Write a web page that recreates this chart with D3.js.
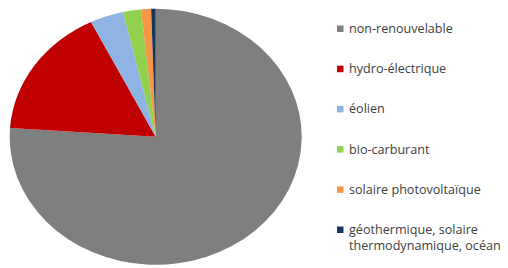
<!DOCTYPE html>
<html>
<head>
<meta charset="utf-8">
<script src="https://cdn.jsdelivr.net/npm/d3@7"></script>
<style>
  body { margin: 0; background: #fff; }
  text { font-family: "Open Sans", "Liberation Sans", sans-serif; }
</style>
</head>
<body>
<div id="chart"></div>
<script>
// energy sources and their share (%)
const sources = ['non-renouvelable', 'hydro-électrique', 'éolien', 'bio-carburant', 'solaire photovoltaïque', 'géothermique, solaire thermodynamique, océan'];
const shares = [76.1, 16.6, 3.7, 2.0, 1.1, 0.5];
const legendLines = [['non-renouvelable'], ['hydro-électrique'], ['éolien'], ['bio-carburant'], ['solaire photovoltaïque'], ['géothermique, solaire', 'thermodynamique, océan']];
const palette = ['#7f7f7f', '#c00000', '#8eb4e3', '#92d050', '#f79646', '#17375e'];

const width = 508, height = 268;
const rx = 146, ry = 128;
const cx = 155.7, cy = 136.8;

const svg = d3.select('#chart').append('svg').attr('width', width).attr('height', height);

const color = d3.scaleOrdinal().domain(sources).range(palette);

const rows = sources.map((s, i) => ({name: s, value: shares[i]}));
const pie = d3.pie().sort(null).value(d => d.value);
const arc = d3.arc().innerRadius(0).outerRadius(rx);

// the original pie is a bit squashed vertically
const g = svg.append('g').attr('transform', 'translate(' + cx + ',' + cy + ') scale(1,' + (ry / rx) + ')');
g.selectAll('path').data(pie(rows)).enter().append('path')
  .attr('d', arc)
  .attr('fill', d => color(d.data.name));

// legend
const y = d3.scalePoint().domain(sources).range([28.5, 229.5]);
const leg = svg.append('g');
const item = leg.selectAll('g').data(sources).enter().append('g')
  .attr('transform', d => 'translate(337,' + y(d) + ')');
item.append('rect').attr('x', 0).attr('y', -3).attr('width', 6.5).attr('height', 6.5)
  .attr('fill', d => color(d));
item.append('text')
  .attr('x', 12).attr('y', 4.5)
  .attr('font-size', 12.6).attr('fill', '#404040')
  .each(function(d, i) {
    const t = d3.select(this);
    legendLines[i].forEach((line, k) => {
      t.append('tspan').attr('x', 12).attr('dy', k === 0 ? 0 : 15.5).text(line);
    });
  });
</script>
</body>
</html>
